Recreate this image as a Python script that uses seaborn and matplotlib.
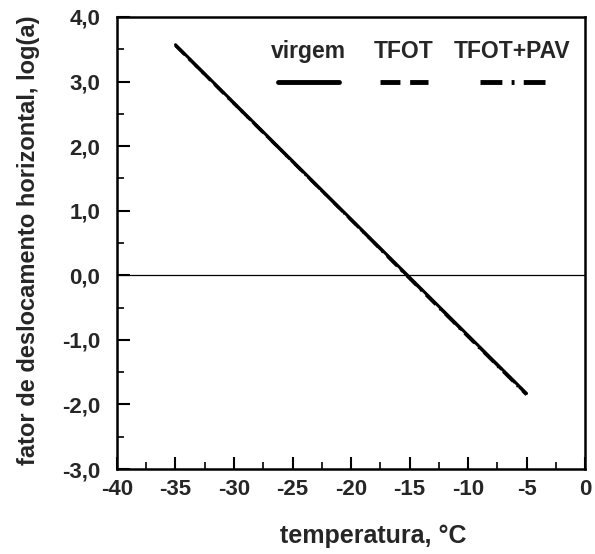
import numpy as np
import pandas as pd
import matplotlib
matplotlib.use("Agg")
import matplotlib.pyplot as plt
from matplotlib.ticker import MultipleLocator, FuncFormatter
from matplotlib.lines import Line2D
import seaborn as sns

# data
temperatura = [-35, -30, -25, -20, -15, -10, -5]
virgem = [3.57, 2.67, 1.77, 0.87, -0.03, -0.93, -1.83]
tfot = [3.56, 2.66, 1.76, 0.86, -0.04, -0.94, -1.84]
tfot_pav = [3.56, 2.66, 1.76, 0.86, -0.05, -0.95, -1.85]
series_names = ["virgem", "TFOT", "TFOT+PAV"]

df = pd.DataFrame({
    "temperatura": temperatura * 3,
    "loga": virgem + tfot + tfot_pav,
    "amostra": [series_names[0]] * 7 + [series_names[1]] * 7 + [series_names[2]] * 7,
})

sns.set_style("ticks")
plt.rcParams["font.family"] = ["Liberation Sans", "DejaVu Sans"]
plt.rcParams["font.weight"] = "bold"

fig = plt.figure(figsize=(5.95, 5.54), dpi=100)
ax = fig.add_axes([117 / 595, 1 - 469 / 554, 468 / 595, 452 / 554])

dash_map = {"virgem": "", "TFOT": (4.1, 2.0), "TFOT+PAV": (4.5, 1.9, 0.6, 1.9)}
sns.lineplot(data=df, x="temperatura", y="loga", style="amostra",
             dashes=dash_map, color="black", linewidth=2.2, legend=False, ax=ax)

ax.axhline(0, color="black", lw=0.9)

ax.set_xlim(-40, 0)
ax.set_ylim(-3, 4)
ax.xaxis.set_major_locator(MultipleLocator(5))
ax.xaxis.set_minor_locator(MultipleLocator(2.5))
ax.yaxis.set_major_locator(MultipleLocator(1))
ax.yaxis.set_minor_locator(MultipleLocator(0.5))
ax.xaxis.set_major_formatter(FuncFormatter(lambda v, p: "0" if abs(v) < 1e-9 else f"{v:.0f}"))
ax.yaxis.set_major_formatter(FuncFormatter(lambda v, p: "0,0" if abs(v) < 1e-9 else f"{v:.1f}".replace(".", ",")))

ax.tick_params(which="major", direction="in", length=9, width=1.5, labelsize=16, color="black")
ax.tick_params(which="minor", direction="in", length=5, width=1.2, color="black")
ax.tick_params(axis="x", which="major", pad=7)
ax.tick_params(axis="y", which="major", pad=12)
for lab in ax.get_xticklabels() + ax.get_yticklabels():
    lab.set_fontweight("bold")

for s in ax.spines.values():
    s.set_linewidth(1.8)
    s.set_color("black")

ax.set_xlabel("temperatura, °C", fontsize=18, fontweight="bold", va="center")
ax.set_ylabel("fator de deslocamento horizontal, log(a)", fontsize=17, fontweight="bold",
              va="center", ha="center")
ax.xaxis.set_label_coords(0.547, -0.148)
ax.yaxis.set_label_coords(-0.19, 0.505)

# legend: label above sample line
leg_x = [0.409, 0.613, 0.845]
leg_half = [0.065, 0.051, 0.069]
for name, cx, hw in zip(series_names, leg_x, leg_half):
    ax.text(cx, 0.909, name, transform=ax.transAxes, ha="center", va="baseline",
            fontsize=16.5, fontweight="bold")
    d = dash_map[name]
    ln = Line2D([cx - hw, cx + hw], [0.856, 0.856], transform=ax.transAxes,
                color="black", lw=3.5)
    if d:
        ln.set_dashes(d)
    ax.add_line(ln)

fig.savefig("out.png", dpi=100)
